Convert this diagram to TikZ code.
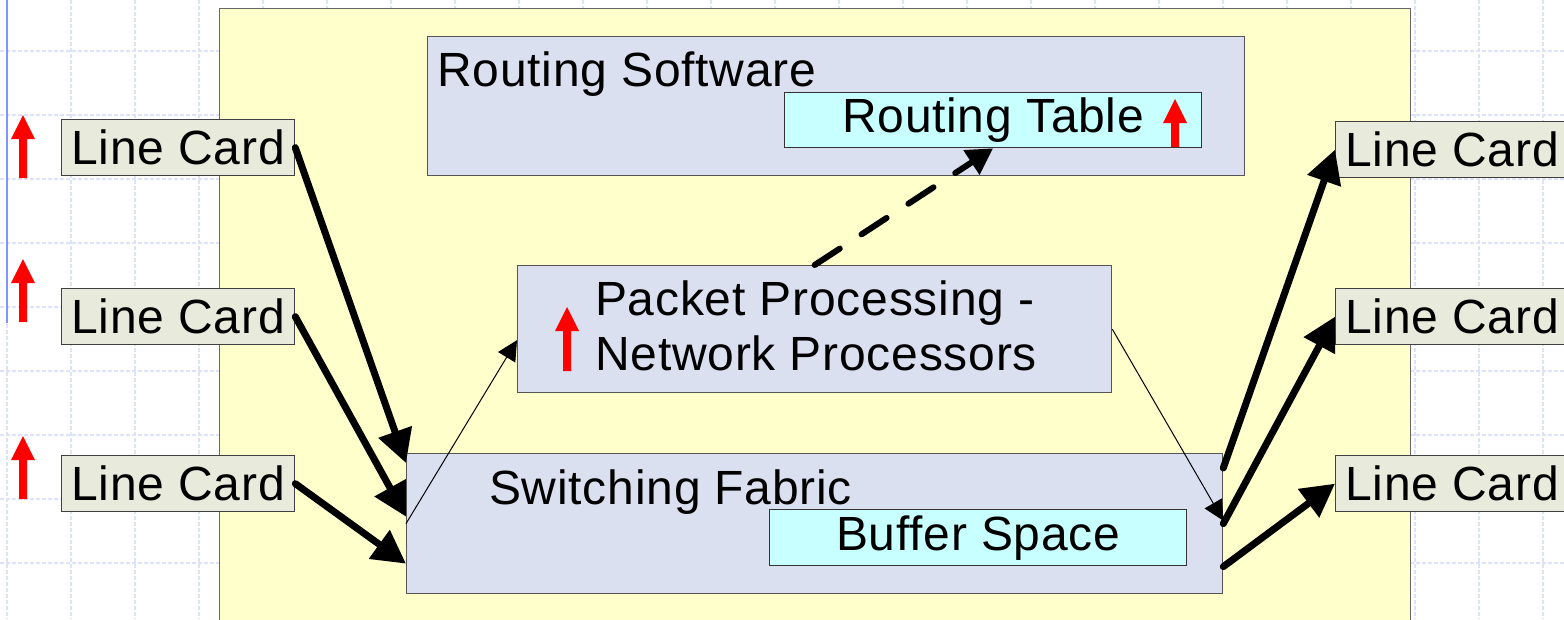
\documentclass[tikz,border=0pt]{standalone}
\usepackage{fontspec}
\setmainfont{Liberation Sans}[LetterSpace=1.6]
\usetikzlibrary{arrows.meta}
\definecolor{gridblue}{HTML}{DCE2FA}
\definecolor{solidblue}{HTML}{8094FF}
\definecolor{paleyellow}{HTML}{FFFFCC}
\definecolor{lavender}{HTML}{DAE0F0}
\definecolor{palecyan}{HTML}{C8FFFF}
\definecolor{cardfill}{HTML}{E8EADC}
\definecolor{boxline}{HTML}{555555}
\tikzset{
  every node/.style={font=\fontsize{48pt}{55pt}\selectfont},
  gridline/.style={draw=gridblue, line width=1.1pt, dash pattern=on 4pt off 2pt},
  box/.style={draw=boxline, line width=1.3pt, inner sep=0pt, anchor=north west},
  card/.style={box, fill=cardfill, draw=black!75, minimum width=233pt, minimum height=56pt},
  bigbox/.style={box, fill=lavender},
  cyanbox/.style={box, fill=palecyan, draw=black!80},
  plain/.style={inner sep=0pt},
  thickarrow/.style={line width=7pt, line cap=round, -{Triangle[length=33pt,width=34pt]}},
  thinarrow/.style={line width=1pt, -{Triangle[length=20pt,width=20pt]}},
  dasharrow/.style={line width=6pt, line cap=round, dash pattern=on 30pt off 26pt, -{Triangle[length=26pt,width=28pt]}},
  redup/.pic={\fill[red] (0,0) -- (12,24) -- (4,24) -- (4,#1) -- (-4,#1) -- (-4,24) -- (-12,24) -- cycle;}
}
\begin{document}
\begin{tikzpicture}[x=1pt,y=-1pt]
\useasboundingbox (0,0) rectangle (1564,619);
\clip (0,0) rectangle (1564,619);
\fill[white] (0,0) rectangle (1564,619);
% grid
\foreach \gx in {7,71,...,1543} \draw[gridline] (\gx,0) -- (\gx,619);
\foreach \gy in {51,115,...,563} \draw[gridline] (0,\gy) -- (1564,\gy);
\draw[solidblue, line width=2pt] (7,0) -- (7,323);
% router frame
\node[box, fill=paleyellow, draw=black!60, minimum width=1191pt, minimum height=640pt] (router) at (219,8) {};
% routing software
\node[bigbox, minimum width=817pt, minimum height=139pt] (rs) at (427,36) {};
\node[plain, anchor=base west] (rslabel) at (437,86) {Routing Software};
\node[cyanbox, minimum width=417pt, minimum height=55pt] (rt) at (784,92) {Routing Table};
\pic at (1175,99) {redup=48};
% packet processing
\node[bigbox, minimum width=594pt, minimum height=127pt] (pp) at (517,265) {};
\node[plain, anchor=base west] (pp1) at (595,315) {Packet Processing -};
\node[plain, anchor=base west] (pp2) at (595,370) {Network Processors};
\pic at (567,307) {redup=64};
% switching fabric
\node[bigbox, minimum width=816pt, minimum height=140pt] (sf) at (406,453) {};
\node[plain, anchor=base west] (sflabel) at (489,504) {Switching Fabric};
\node[cyanbox, minimum width=417pt, minimum height=56pt] (bs) at (769,509) {Buffer Space};
% line cards
\node[card] (l1) at (61,119) {Line Card};
\node[card] (l2) at (61,288) {Line Card};
\node[card] (l3) at (61,455) {Line Card};
\node[card] (r1) at (1335,121) {Line Card};
\node[card] (r2) at (1335,288) {Line Card};
\node[card] (r3) at (1335,455) {Line Card};
\pic at (23,115) {redup=63};
\pic at (23,259) {redup=63};
\pic at (23,436) {redup=63};
% connectors
\draw[thickarrow] (l1.east) -- ([yshift=-10pt]sf.north west);
\draw[thickarrow] (l2.east) -- ([yshift=7pt]sf.west);
\draw[thickarrow] (l3.east) -- ([yshift=-40pt]sf.west);
\draw[thinarrow] (sf.west) -- ([yshift=-11pt]pp.west);
\draw[thinarrow] (pp.east) -- ([yshift=3pt]sf.east);
\draw[dasharrow] (pp.north) -- (rt.south);
\draw[thickarrow] ([yshift=-15pt]sf.north east) -- (r1.west);
\draw[thickarrow] (sf.east) -- (r2.west);
\draw[thickarrow] ([yshift=-43pt]sf.east) -- (r3.west);
\end{tikzpicture}
\end{document}
